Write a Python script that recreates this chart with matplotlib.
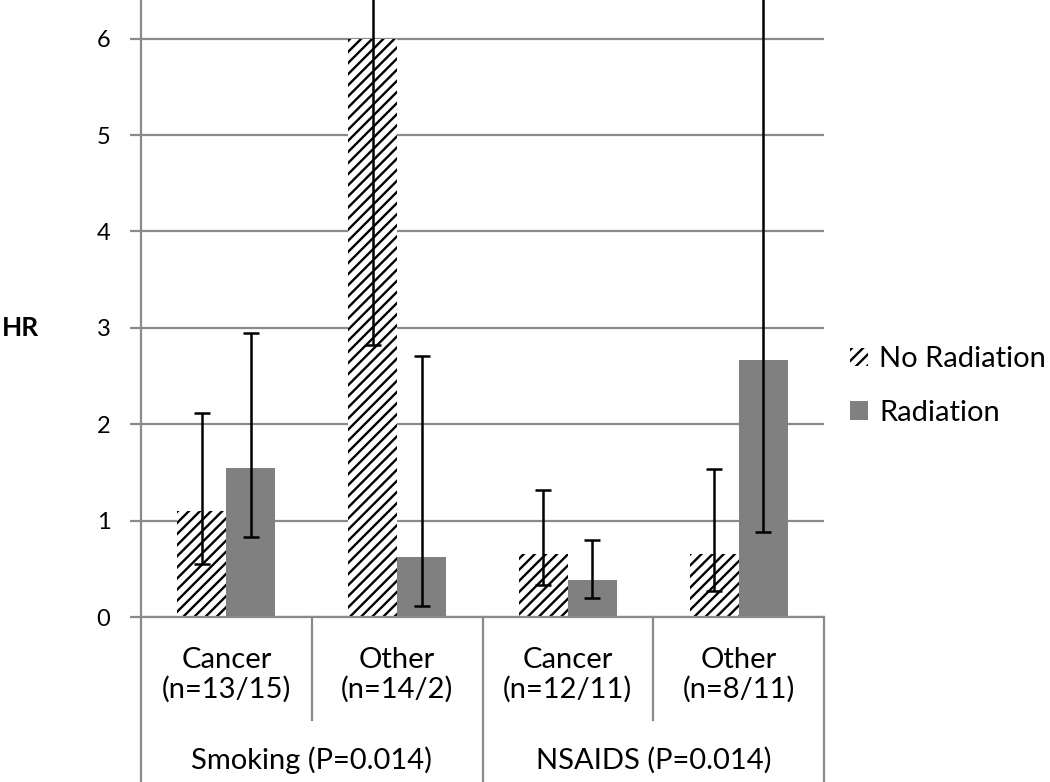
import numpy as np
import matplotlib
matplotlib.use('Agg')
import matplotlib.pyplot as plt

plt.rcParams['font.family'] = ['Lato', 'DejaVu Sans']
plt.rcParams['hatch.linewidth'] = 1.7

# data
categories = ['Cancer\n(n=13/15)', 'Other\n(n=14/2)', 'Cancer\n(n=12/11)', 'Other\n(n=8/11)']
groups = ['Smoking (P=0.014)', 'NSAIDS (P=0.014)']
no_rad = [1.10, 6.00, 0.66, 0.66]
no_rad_lo = [0.55, 2.82, 0.33, 0.27]
no_rad_hi = [2.12, 10.0, 1.32, 1.54]
rad = [1.55, 0.63, 0.39, 2.67]
rad_lo = [0.83, 0.12, 0.20, 0.88]
rad_hi = [2.95, 2.71, 0.80, 10.0]

fig = plt.figure(figsize=(10.5, 7.82), dpi=100)
ax = fig.add_axes([141/1050, 1-617.3/782, (824-141)/1050, 617.3/782])

x = np.arange(len(categories))
w = 0.287
grey = '#8a8a8a'

b1 = ax.bar(x - w/2, no_rad, w, facecolor='white', edgecolor='black', linewidth=0,
            hatch='///', label='No Radiation', zorder=2)
b2 = ax.bar(x + w/2, rad, w, color='#808080', label='Radiation', zorder=2)

ax.errorbar(x - w/2, no_rad,
            yerr=[np.array(no_rad) - np.array(no_rad_lo), np.array(no_rad_hi) - np.array(no_rad)],
            fmt='none', ecolor='black', elinewidth=1.8, capsize=5.5, capthick=1.8, zorder=3)
ax.errorbar(x + w/2, rad,
            yerr=[np.array(rad) - np.array(rad_lo), np.array(rad_hi) - np.array(rad)],
            fmt='none', ecolor='black', elinewidth=1.8, capsize=5.5, capthick=1.8, zorder=3)

ax.set_xlim(-0.5, 3.5)
ax.set_ylim(0, 6.40)
ax.set_yticks(range(0, 7))
ax.yaxis.grid(True, color=grey, linewidth=1.6)
ax.set_axisbelow(True)
for s in ['top', 'right', 'bottom']:
    ax.spines[s].set_visible(False)
ax.spines['left'].set_color(grey)
ax.spines['left'].set_linewidth(1.6)
ax.tick_params(axis='y', length=8, width=1.6, color=grey, pad=14, labelsize=17)
ax.set_xticks([])

# category axis drawn below the plot
tr = ax.get_xaxis_transform()
ax.plot([-0.5, 3.5], [0, 0], color=grey, lw=1.6, transform=tr, clip_on=False)
for xv, ybot in [(-0.5, -0.27), (0.5, -0.166), (1.5, -0.27), (2.5, -0.166), (3.5, -0.27)]:
    ax.plot([xv, xv], [0, ybot], color=grey, lw=1.6, transform=tr, clip_on=False)
for i, c in enumerate(categories):
    ax.text(i, -0.0935, c, transform=tr, ha='center', va='center', fontsize=21, linespacing=1.15)
for j, g in enumerate(groups):
    ax.text(2*j + 0.5, -0.231, g, transform=tr, ha='center', va='center', fontsize=21)

fig.text(0.002, 1-328/782, 'HR', fontsize=19, fontweight='bold', va='center', ha='left')

fig.legend(handles=[b1, b2], labels=['No Radiation', 'Radiation'], loc='center left',
           bbox_to_anchor=(824/1050, 1-386/782), frameon=False, fontsize=21,
           handlelength=0.6, handleheight=0.6, handletextpad=0.4, labelspacing=0.95)

fig.savefig('out.png', dpi=100)
